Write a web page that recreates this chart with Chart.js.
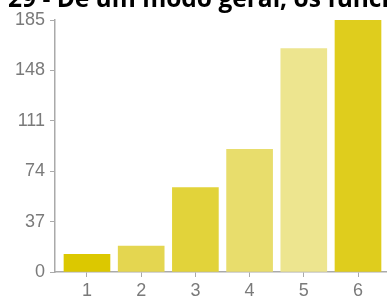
<!DOCTYPE html>
<html>
<head>
<meta charset="utf-8">
<script src="https://cdn.jsdelivr.net/npm/chart.js@4"></script>
<style>
  html, body { margin: 0; padding: 0; background: #fff; overflow: hidden; }
  #wrap { position: relative; width: 387px; height: 296px; overflow: hidden; }
  #title { position: absolute; left: 8px; top: -19px; white-space: nowrap;
           font-family: "Open Sans", sans-serif; font-weight: bold; font-size: 24.5px;
           color: #000; z-index: 2; }
  canvas { position: absolute; left: 0; top: 0; }
</style>
</head>
<body>
<div id="wrap">
  <div id="title">29 - De um modo geral, os funcionários</div>
  <canvas id="c" width="387" height="296"></canvas>
</div>
<script>
const titleText = "29 - De um modo geral, os funcionários";
const categories = [1, 2, 3, 4, 5, 6];
const values = [13, 19, 62, 90, 164, 185];
const yTicks = [0, 37, 74, 111, 148, 185];
const barColors = ["#dcc800", "#e4d650", "#e2d33a", "#e8dd6c", "#ede58f", "#dfcd1d"];

document.getElementById('title').textContent = titleText;

new Chart(document.getElementById('c'), {
  type: 'bar',
  data: {
    datasets: [{
      data: categories.map((c, i) => ({ x: c, y: values[i] })),
      backgroundColor: barColors,
      borderWidth: 0,
      barThickness: 46
    }]
  },
  options: {
    responsive: false,
    animation: false,
    layout: { padding: { top: 20, right: 0, bottom: 0, left: 0 } },
    plugins: { legend: { display: false }, tooltip: { enabled: false }, title: { display: false } },
    scales: {
      x: {
        type: 'linear',
        offset: false,
        min: 0.41,
        max: 6.535,
        afterBuildTicks: s => { s.ticks = categories.map(v => ({ value: v })); },
        afterFit: s => { s.height = 24; },
        ticks: { color: '#7a7a7a', font: { family: 'Liberation Sans, Arial', size: 18 }, padding: 3, maxRotation: 0, autoSkip: false },
        grid: { drawOnChartArea: false, offset: false, color: '#aaa', tickLength: 5, tickColor: '#aaa' },
        border: { color: '#aaa', width: 1.5 }
      },
      y: {
        min: 0,
        max: 185,
        afterBuildTicks: s => { s.ticks = yTicks.map(v => ({ value: v })); },
        afterFit: s => { s.width = 55; },
        ticks: { color: '#7a7a7a', font: { family: 'Liberation Sans, Arial', size: 18 }, padding: 5 },
        grid: { drawOnChartArea: false, color: '#aaa', tickLength: 5, tickColor: '#aaa' },
        border: { color: '#aaa', width: 1.5 }
      }
    }
  }
});
</script>
</body>
</html>
